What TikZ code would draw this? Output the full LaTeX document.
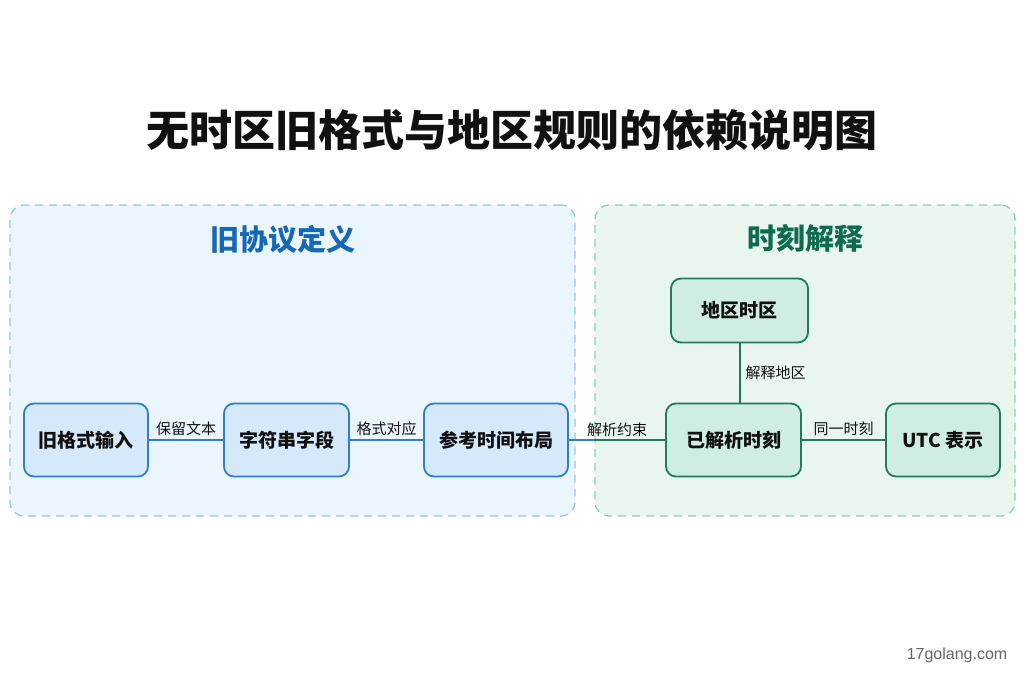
\documentclass[tikz,border=0pt]{standalone}
\usepackage{fontspec}
\setmainfont{Noto Sans CJK SC}
\newfontfamily\webfont{Liberation Sans}
\usetikzlibrary{positioning}
\definecolor{legfill}{HTML}{EAF5FE}
\definecolor{legline}{HTML}{93C6EC}
\definecolor{legnode}{HTML}{D5E9FA}
\definecolor{legdraw}{HTML}{2F80C4}
\definecolor{legtext}{HTML}{1667B5}
\definecolor{zonefill}{HTML}{E9F6F0}
\definecolor{zoneline}{HTML}{8CD0B2}
\definecolor{zonenode}{HTML}{CFEDE1}
\definecolor{zonedraw}{HTML}{217A5E}
\definecolor{zonetext}{HTML}{0F6B4F}
\definecolor{ink}{HTML}{111111}
\definecolor{muted}{HTML}{666666}

\begin{document}
\begin{tikzpicture}[
  x=1pt, y=-1pt,
  blk/.style={draw,rounded corners=10pt,line width=1.8pt,
              minimum height=73pt,align=center,inner sep=0pt,outer sep=0pt,
              text=ink,font=\fontsize{19}{22}\selectfont\bfseries},
  legb/.style={blk,draw=legdraw,fill=legnode},
  zoneb/.style={blk,draw=zonedraw,fill=zonenode},
  lanebox/.style={draw,line width=1.3pt,dash pattern=on 8pt off 6pt,
              rounded corners=14pt,minimum height=311pt,inner sep=0pt},
  link/.style={line width=2pt},
  lbl/.style={font=\fontsize{15}{18}\selectfont,text=ink,inner sep=2pt},
  lane/.style={font=\fontsize{29}{32}\selectfont\bfseries},
]
\fill[white] (0,0) rectangle (1024,683);

% ------------------------------------------------------------------ lanes
\node[lanebox,draw=legline,fill=legfill,minimum width=565pt] (legacy) at (292.5,360.5) {};
\node[lanebox,draw=zoneline,fill=zonefill,minimum width=420pt] (zone) at (805,360.5) {};

\node[font=\fontsize{43}{46}\selectfont\bfseries,text=ink] (title) at (512,130)
  {无时区旧格式与地区规则的依赖说明图};
\node[lane,text=legtext] (legtitle) at (283,240) {旧协议定义};
\node[lane,text=zonetext] (zonetitle) at (805,238) {时刻解释};

% ----------------------------------------------------------- legacy parse
\node[legb,minimum width=124pt]                 (a1) at (86,440) {旧格式输入};
\node[legb,minimum width=125pt,right=76pt of a1] (a2) {字符串字段};
\node[legb,minimum width=144pt,right=75pt of a2] (a3) {参考时间布局};

\draw[link,legdraw] (a1) -- node[lbl,above=1pt] {保留文本} (a2);
\draw[link,legdraw] (a2) -- node[lbl,above=1pt] {格式对应} (a3);

% ------------------------------------------------------ instant, location
\node[zoneb,minimum width=135pt,right=98pt of a3] (b1) {已解析时刻};
\node[zoneb,minimum width=114pt,right=85pt of b1] (b2) {UTC 表示};
\node[zoneb,minimum width=137pt,minimum height=64pt,above=61pt of b1,xshift=6pt] (b3) {地区时区};

% constraint crosses the lane border
\coordinate (cross) at (a3 -| zone.west);
\draw[link,legdraw] (a3) -- (cross);
\draw[link,zonedraw] (cross) -- (b1);
\path (a3) -- node[lbl,above=1pt] {解析约束} (b1);

\draw[link,zonedraw] (b1) -- node[lbl,above=1pt] {同一时刻} (b2);
\draw[link,zonedraw] (b3.south) -- node[lbl,right=3pt] {解释地区} (b3.south |- b1.north);

\node[font=\webfont\fontsize{16}{18}\selectfont,text=muted] (site) at (957,655) {17golang.com};

\end{tikzpicture}
\end{document}
